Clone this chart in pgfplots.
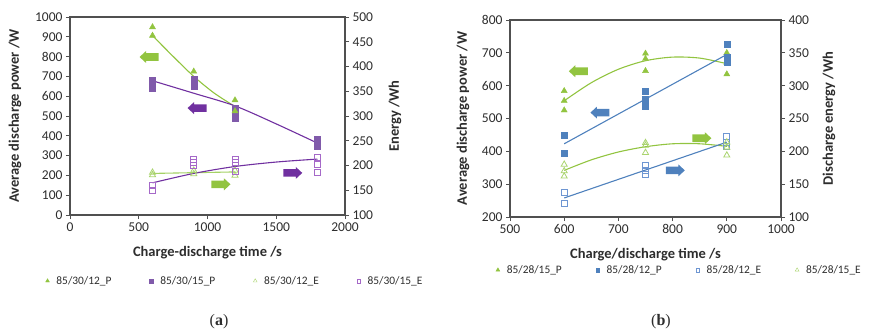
\documentclass[border=0pt]{standalone}
\usepackage{pgfplots}
\pgfplotsset{compat=1.18}
\usepackage{fontspec}
\setmainfont{Carlito}
\newfontfamily\capfont{Liberation Serif}
\definecolor{grn}{RGB}{146,196,64}
\definecolor{grnl}{RGB}{170,212,110}
\definecolor{pur}{RGB}{112,48,160}
\definecolor{purm}{RGB}{128,90,170}
\definecolor{purl}{RGB}{165,105,200}
\definecolor{blu}{RGB}{79,129,189}
\definecolor{blul}{RGB}{110,150,210}
\definecolor{frm}{RGB}{80,80,80}
\definecolor{txt}{RGB}{45,45,45}

\newcommand{\labfont}{\bfseries\fontsize{14.5}{15}\selectfont}
% fat block arrows (annotation), drawn relative to an anchor point
\newcommand{\arrL}[2]{\fill[#1] (#2) ++(-9.5pt,0pt) -- ++(6.5pt,6pt) -- ++(0pt,-2.2pt) -- ++(12.5pt,0pt) -- ++(0pt,-7.6pt) -- ++(-12.5pt,0pt) -- ++(0pt,-2.2pt) -- cycle;}
\newcommand{\arrR}[2]{\fill[#1] (#2) ++(9.5pt,0pt) -- ++(-6.5pt,6pt) -- ++(0pt,-2.2pt) -- ++(-12.5pt,0pt) -- ++(0pt,-7.6pt) -- ++(12.5pt,0pt) -- ++(0pt,-2.2pt) -- cycle;}

\pgfplotsset{
  base/.style={
    scale only axis,
    axis line style={frm, line width=1.2pt},
    tick style={frm, line width=0.8pt},
    tick align=outside,
    major tick length=4pt,
    ticklabel style={font=\fontsize{13.5}{14}\selectfont, text=txt},
    /pgf/number format/assume math mode=true,
    /pgf/number format/set thousands separator={},
    scaled ticks=false,
  },
  legbase/.style={
    legend style={draw=none, fill=none, font=\fontsize{11.4}{12}\selectfont, text=txt,
      legend columns=4, anchor=center,
      /tikz/every odd column/.append style={column sep=5pt},
      /tikz/every even column/.append style={column sep=#1}},
    legend image code/.code={\draw[mark repeat=1,##1] plot coordinates {(0pt,0pt)};},
  },
}

\begin{document}
\begin{tikzpicture}
\useasboundingbox (0pt,0pt) rectangle (870pt,333pt);

% ================= Panel (a) left axis =================
\begin{axis}[base,
  at={(70pt,118pt)}, anchor=south west,
  width=275pt, height=198pt,
  xmin=0, xmax=2000, ymin=0, ymax=1000,
  xtick={0,500,1000,1500,2000},
  ytick={0,100,...,1000},
  xtick pos=bottom, ytick pos=left,
  xlabel={Charge-discharge time /s},
  ylabel={Average discharge power /W},
  every axis x label/.style={at={(axis description cs:0.5,-0.19)}, anchor=center, font=\labfont, text=txt},
  every axis y label/.style={at={(axis description cs:-0.2,0.5)}, anchor=center, rotate=90, font=\labfont, text=txt},
]
% 85/30/15_P
\addplot[only marks, mark=square*, mark size=3pt, mark options={fill=purm, draw=purm}] coordinates {
 (600,680) (600,660) (600,640)
 (900,685) (900,665) (900,650)
 (1200,540) (1200,523) (1200,489)
 (1800,385) (1800,370) (1800,355) (1800,345)};
% 85/30/12_P
\addplot[only marks, mark=triangle*, mark size=3.5pt, mark options={fill=grn, draw=grn}] coordinates {
 (600,949) (600,906) (900,725) (1200,580) (1200,525)};
% trends
\addplot[grn, line width=1.1pt, smooth] coordinates {(600,906) (750,801) (900,700) (1050,615) (1200,548)};
\addplot[pur, line width=1.1pt, smooth] coordinates {(600,678) (900,615) (1200,551) (1500,460) (1800,363)};
\arrL{grn}{axis cs:575,798}
\arrL{pur}{axis cs:924,540}
\end{axis}

% ================= Panel (a) right axis =================
\begin{axis}[base, legbase=36pt,
  at={(70pt,118pt)}, anchor=south west,
  width=275pt, height=198pt,
  xmin=0, xmax=2000, ymin=100, ymax=500,
  xtick=\empty,
  ytick={100,150,...,500},
  ytick pos=right,
  ylabel={Energy /Wh},
  every axis y label/.style={at={(axis description cs:1.182,0.5)}, anchor=center, rotate=90, font=\labfont, text=txt},
  legend style={at={(axis description cs:0.6,-0.333)}},
]
\addlegendimage{only marks, mark=triangle*, mark size=2.2pt, mark options={fill=grn, draw=grn}}
\addlegendentry{85/30/12\_P}
\addlegendimage{only marks, mark=square*, mark size=1.9pt, mark options={fill=purm, draw=purm}}
\addlegendentry{85/30/15\_P}
\addlegendimage{only marks, mark=triangle, mark size=2.2pt, mark options={draw=grnl}}
\addlegendentry{85/30/12\_E}
\addlegendimage{only marks, mark=square, mark size=1.9pt, mark options={draw=purl}}
\addlegendentry{85/30/15\_E}
% 85/30/12_E
\addplot[forget plot, only marks, mark=triangle, mark size=3.5pt, mark options={draw=grnl, line width=0.8pt}] coordinates {
 (600,186) (600,181) (900,190) (900,183) (1200,190) (1200,180)};
% 85/30/15_E
\addplot[forget plot, only marks, mark=square, mark size=3pt, mark options={draw=purl, line width=0.8pt}] coordinates {
 (600,159) (600,149)
 (900,213) (900,207) (900,201)
 (1200,213) (1200,207) (1200,188)
 (1800,217) (1800,203) (1800,187)};
\addplot[forget plot, grnl!80!grn, line width=1.1pt] coordinates {(600,184) (900,185.5) (1200,187)};
\addplot[forget plot, pur, line width=1.1pt, smooth] coordinates {(600,165) (900,184) (1200,198) (1500,207) (1800,213)};
\arrR{grn}{axis cs:1098,162}
\arrR{pur}{axis cs:1620,185}
\end{axis}

% ================= Panel (b) left axis =================
\begin{axis}[base,
  at={(510pt,116pt)}, anchor=south west,
  width=271pt, height=197pt,
  xmin=500, xmax=1000, ymin=200, ymax=800,
  xtick={500,600,...,1000},
  ytick={200,300,...,800},
  xtick pos=bottom, ytick pos=left,
  xlabel={Charge/discharge time /s},
  ylabel={Average discharge power /W},
  every axis x label/.style={at={(axis description cs:0.5,-0.193)}, anchor=center, font=\labfont, text=txt},
  every axis y label/.style={at={(axis description cs:-0.173,0.5)}, anchor=center, rotate=90, font=\labfont, text=txt},
]
% 85/28/15_P
\addplot[only marks, mark=triangle*, mark size=3.5pt, mark options={fill=grn, draw=grn}] coordinates {
 (600,584) (600,554) (600,525)
 (750,698) (750,682) (750,645)
 (900,700) (900,670) (900,635)};
% 85/28/12_P
\addplot[only marks, mark=square*, mark size=3pt, mark options={fill=blu, draw=blu}] coordinates {
 (600,449) (600,395)
 (750,584) (750,558) (750,538)
 (900,727) (900,688) (900,678) (900,670)};
\addplot[grn, line width=1.1pt, smooth] coordinates {(600,554) (650,609) (700,650) (750,676) (800,687) (850,684) (900,667)};
\addplot[blu, line width=1.1pt] coordinates {(600,423) (900,695)};
\arrL{grn}{axis cs:626,644}
\arrL{blu}{axis cs:666,518}
\end{axis}

% ================= Panel (b) right axis =================
\begin{axis}[base, legbase=32pt,
  at={(510pt,116pt)}, anchor=south west,
  width=271pt, height=197pt,
  xmin=500, xmax=1000, ymin=100, ymax=400,
  xtick=\empty,
  ytick={100,150,...,400},
  ytick pos=right,
  ylabel={Discharge energy /Wh},
  every axis y label/.style={at={(axis description cs:1.177,0.5)}, anchor=center, rotate=90, font=\labfont, text=txt},
  legend style={at={(axis description cs:0.625,-0.269)}},
]
\addlegendimage{only marks, mark=triangle*, mark size=2.2pt, mark options={fill=grn, draw=grn}}
\addlegendentry{85/28/15\_P}
\addlegendimage{only marks, mark=square*, mark size=1.9pt, mark options={fill=blu, draw=blu}}
\addlegendentry{85/28/12\_P}
\addlegendimage{only marks, mark=square, mark size=1.9pt, mark options={draw=blul}}
\addlegendentry{85/28/12\_E}
\addlegendimage{only marks, mark=triangle, mark size=2.2pt, mark options={draw=grnl}}
\addlegendentry{85/28/15\_E}
% 85/28/12_E
\addplot[forget plot, only marks, mark=square, mark size=3pt, mark options={draw=blul, line width=0.8pt}] coordinates {
 (600,137) (600,121)
 (750,179) (750,171) (750,165)
 (900,223) (900,213) (900,207)};
% 85/28/15_E
\addplot[forget plot, only marks, mark=triangle, mark size=3.5pt, mark options={draw=grnl, line width=0.8pt}] coordinates {
 (600,180) (600,170) (600,162)
 (750,213) (750,209) (750,198)
 (900,214) (900,206) (900,194)};
\addplot[forget plot, grn, line width=1.1pt, smooth] coordinates {(600,171) (650,187) (700,199) (750,207) (800,211.5) (850,211.5) (900,207.6)};
\addplot[forget plot, blu, line width=1.1pt] coordinates {(600,129) (900,214)};
\arrR{grn}{axis cs:854,220}
\arrR{blu}{axis cs:805,171}
\end{axis}

\node[text=txt] at (219pt,11pt) {\capfont\fontsize{16}{16}\selectfont(\textbf{a})};
\node[text=txt] at (661pt,11pt) {\capfont\fontsize{16}{16}\selectfont(\textbf{b})};
\end{tikzpicture}
\end{document}
